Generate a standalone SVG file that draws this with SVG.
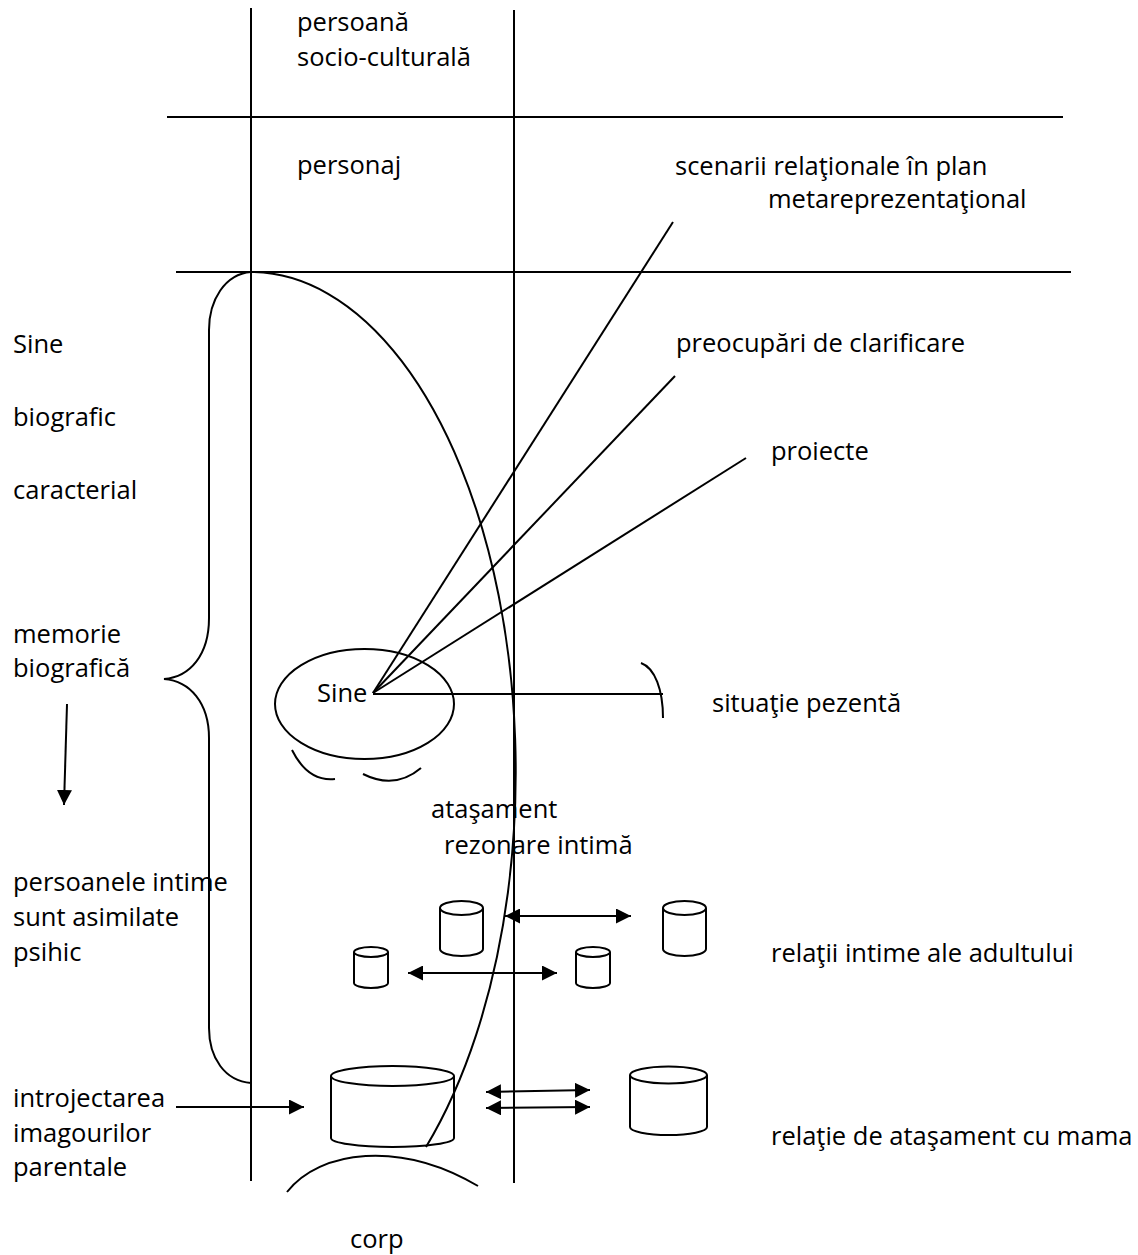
<svg xmlns="http://www.w3.org/2000/svg" width="1138" height="1255" viewBox="0 0 1138 1255">
  <style>
    .ln { fill: none; stroke: #000; stroke-width: 2; }
    .cyl { fill: none; stroke: #000; stroke-width: 2; }
    .lbl { font-family: "Open Sans", "Liberation Sans", sans-serif; font-size: 25.5px; fill: #000; }
    .dbl { marker-start: url(#head); marker-end: url(#head); }
    .one { marker-end: url(#head); }
  </style>
  <defs>
    <marker id="head" markerUnits="userSpaceOnUse" markerWidth="15" markerHeight="15" refX="15" refY="7.5" orient="auto-start-reverse">
      <path d="M0,0 L15,7.5 L0,15 Z" fill="#000"/>
    </marker>
  </defs>
  <rect width="1138" height="1255" fill="#fff"/>

  <!-- grid of the layers -->
  <g id="grid">
    <line class="ln" x1="251" y1="8" x2="251" y2="1181"/>
    <line class="ln" x1="514" y1="10" x2="514" y2="1183"/>
    <line class="ln" x1="167" y1="117" x2="1063" y2="117"/>
    <line class="ln" x1="176" y1="272" x2="1071" y2="272"/>
  </g>

  <!-- brace grouping the biographic self -->
  <g id="brace">
    <path class="ln" d="M251 272 C225 274 209 300 209 330 L209 618 C209 655 190 677 164 679 C190 681 209 703 209 738 L209 1028 C209 1058 225 1081 251 1083"/>
  </g>

  <!-- the self and its surroundings -->
  <g id="self">
    <ellipse class="ln" cx="364.5" cy="704" rx="89.5" ry="55"/>
    <text class="lbl" x="317" y="702">Sine</text>
    <path class="ln" d="M292 750 Q308 782 335 779"/>
    <path class="ln" d="M363 774 Q395 790 421 768"/>
  </g>

  <g id="present">
    <path class="ln" d="M641 663 C655 668 663 690 663 718"/>
    <text class="lbl" x="712" y="712">situaţie pezentă</text>
  </g>

  <!-- cylinders: persons -->
  <g id="cyl-a">
    <path class="cyl" d="M440 908 L440 949 A21.5 7 0 0 0 483 949 L483 908"/>
    <ellipse class="cyl" cx="461.5" cy="908" rx="21.5" ry="7"/>
  </g>
  <g id="cyl-b">
    <path class="cyl" d="M354 952 L354 983 A17 5 0 0 0 388 983 L388 952"/>
    <ellipse class="cyl" cx="371" cy="952" rx="17" ry="5"/>
  </g>
  <g id="cyl-c">
    <path class="cyl" d="M576 952 L576 983 A17 5 0 0 0 610 983 L610 952"/>
    <ellipse class="cyl" cx="593" cy="952" rx="17" ry="5"/>
  </g>
  <g id="cyl-d">
    <path class="cyl" d="M663 908 L663 949 A21.5 7 0 0 0 706 949 L706 908"/>
    <ellipse class="cyl" cx="684.5" cy="908" rx="21.5" ry="7"/>
  </g>
  <g id="cyl-e">
    <path class="cyl" d="M331 1076 L331 1138 A61.5 9 0 0 0 454 1138 L454 1076"/>
    <ellipse class="cyl" cx="392.5" cy="1076" rx="61.5" ry="10"/>
  </g>
  <g id="cyl-f">
    <path class="cyl" d="M630 1075 L630 1127 A38.5 8 0 0 0 707 1127 L707 1075"/>
    <ellipse class="cyl" cx="668.5" cy="1075" rx="38.5" ry="8.5"/>
  </g>

  <!-- large envelope of the self -->
  <g id="envelope">
    <path class="ln" d="M251 272 A265 500 0 0 1 426 1147"/>
  </g>

  <!-- body -->
  <g id="body">
    <path class="ln" d="M287 1192 C320 1150 400 1140 478 1186"/>
    <text class="lbl" x="350" y="1248">corp</text>
  </g>

  <!-- connectors -->
  <g id="connectors">
    <line class="ln" x1="373" y1="693" x2="673" y2="222"/>
    <line class="ln" x1="373" y1="693" x2="675" y2="376"/>
    <line class="ln" x1="373" y1="693" x2="746" y2="458"/>
    <line class="ln" x1="373" y1="694" x2="663" y2="694"/>
    <line class="ln one" x1="67" y1="704" x2="64" y2="805"/>
    <line class="ln dbl" x1="505" y1="916" x2="631" y2="916"/>
    <line class="ln dbl" x1="408" y1="973" x2="557" y2="973"/>
    <line class="ln dbl" x1="486" y1="1092" x2="590" y2="1090"/>
    <line class="ln dbl" x1="486" y1="1108" x2="590" y2="1107"/>
    <line class="ln one" x1="176" y1="1107" x2="304" y2="1107"/>
  </g>

  <!-- labels -->
  <g id="labels">
    <text class="lbl" x="297" y="31">persoană</text>
    <text class="lbl" x="297" y="66">socio-culturală</text>
    <text class="lbl" x="297" y="174">personaj</text>
    <text class="lbl" x="675" y="175">scenarii relaţionale în plan</text>
    <text class="lbl" x="768" y="208">metareprezentaţional</text>
    <text class="lbl" x="676" y="352">preocupări de clarificare</text>
    <text class="lbl" x="771" y="460">proiecte</text>
    <text class="lbl" x="13" y="353">Sine</text>
    <text class="lbl" x="13" y="426">biografic</text>
    <text class="lbl" x="13" y="499">caracterial</text>
    <text class="lbl" x="13" y="643">memorie</text>
    <text class="lbl" x="13" y="677">biografică</text>
    <text class="lbl" x="431" y="818">ataşament</text>
    <text class="lbl" x="444" y="854">rezonare intimă</text>
    <text class="lbl" x="13" y="891">persoanele intime</text>
    <text class="lbl" x="13" y="926">sunt asimilate</text>
    <text class="lbl" x="13" y="961">psihic</text>
    <text class="lbl" x="771" y="962">relaţii intime ale adultului</text>
    <text class="lbl" x="13" y="1107">introjectarea</text>
    <text class="lbl" x="13" y="1142">imagourilor</text>
    <text class="lbl" x="13" y="1176">parentale</text>
    <text class="lbl" x="771" y="1145">relaţie de ataşament cu mama</text>
  </g>
</svg>
